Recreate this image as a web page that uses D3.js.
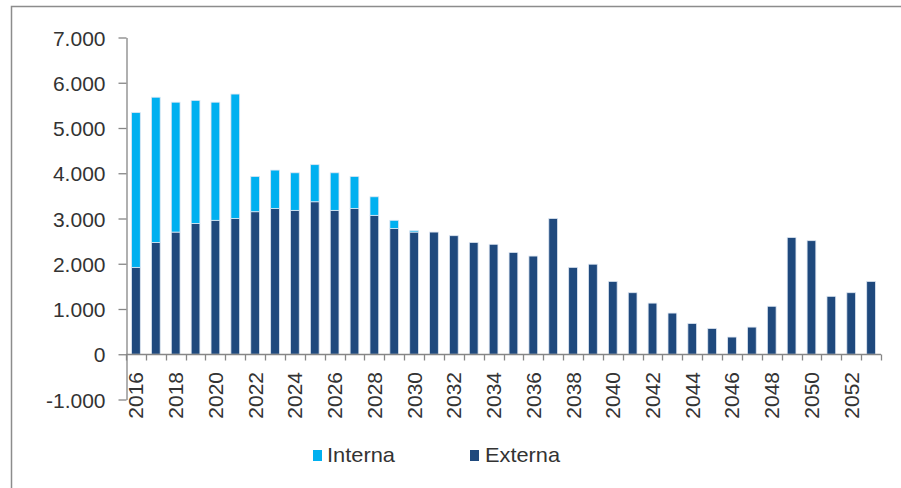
<!DOCTYPE html>
<html>
<head>
<meta charset="utf-8">
<script src="https://cdn.jsdelivr.net/npm/d3@7"></script>
<style>
  body { margin: 0; background: #fff; }
  svg { display: block; font-family: "Liberation Sans", Arial, sans-serif; }
</style>
</head>
<body>
<svg id="drawing_region"></svg>
<script>
var years = [];
for (var y = 2016; y <= 2053; y++) years.push(String(y));

var externa = [1920, 2470, 2700, 2890, 2960, 3000, 3150, 3220, 3180, 3370,
               3180, 3220, 3070, 2780, 2700, 2700, 2620, 2470, 2430, 2250,
               2170, 3000, 1920, 1990, 1610, 1360, 1130, 910, 680, 570,
               380, 600, 1060, 2580, 2510, 1280, 1360, 1610];
var interna = [3420, 3210, 2870, 2720, 2610, 2750, 780, 850, 830, 820,
               830, 710, 410, 180, 30, 0, 0, 0, 0, 0,
               0, 0, 0, 0, 0, 0, 0, 0, 0, 0,
               0, 0, 0, 0, 0, 0, 0, 0];
var yticks = [-1000, 0, 1000, 2000, 3000, 4000, 5000, 6000, 7000];
var seriesNames = ['Interna', 'Externa'];
var colors = {Interna: '#00b0f0', Externa: '#1f497d'};

var data = years.map((d, i) => ({year: d, Externa: externa[i], Interna: interna[i]}));

var width = 901, height = 488;
var svg = d3.select('#drawing_region').attr('width', width).attr('height', height);

// frame
svg.append('path')
  .attr('d', 'M11.5,488 L11.5,6.5 L901,6.5')
  .attr('fill', 'none').attr('stroke', '#8c8c8c').attr('stroke-width', 1.5);

var xscale = d3.scaleBand()
  .domain(years)
  .range([126, 881])
  .paddingInner(0.56)
  .paddingOuter(0.28);

var yscale = d3.scaleLinear()
  .domain([-1000, 7000])
  .range([399.5, 37.5]);

var loc = d3.formatLocale({decimal: ',', thousands: '.', grouping: [3], currency: ['', '']});
var fmt = loc.format(',');

var axisColor = '#868686';
var textColor = '#333333';

// y axis
var yaxis = d3.axisLeft(yscale).tickValues(yticks).tickSize(8).tickSizeOuter(0)
  .tickFormat(d => d < 0 ? '-' + fmt(-d) : fmt(d));
var yg = svg.append('g').attr('transform', 'translate(126.5,0)').call(yaxis);
yg.select('.domain').attr('stroke', axisColor).attr('stroke-width', 1.3);
yg.selectAll('.tick line').attr('stroke', axisColor).attr('stroke-width', 1.3);
yg.selectAll('.tick text')
  .attr('x', -21).attr('dy', '0.36em')
  .attr('fill', textColor).attr('font-size', 21)
  .attr('font-family', '"Liberation Sans", Arial, sans-serif');

// stacked bars
var stack = d3.stack().keys(['Externa', 'Interna']);
var layers = stack(data);

svg.append('g').selectAll('g').data(layers).join('g')
  .attr('fill', d => colors[d.key])
  .selectAll('rect').data(d => d.filter(e => e[1] - e[0] > 0)).join('rect')
  .attr('x', d => xscale(d.data.year))
  .attr('y', d => yscale(d[1]))
  .attr('width', xscale.bandwidth())
  .attr('height', d => yscale(d[0]) - yscale(d[1]))
  .attr('stroke', '#dde6f2').attr('stroke-width', 0.8);

// x axis line at zero with ticks on category boundaries
var y0 = Math.round(yscale(0)) + 0.5;
var x0 = xscale.range()[0], x1 = xscale.range()[1];
svg.append('line')
  .attr('x1', x0).attr('x2', x1).attr('y1', y0).attr('y2', y0)
  .attr('stroke', axisColor).attr('stroke-width', 1.3);
var bounds = d3.range(years.length + 1).map(i => x0 + i * xscale.step());
svg.append('g').selectAll('line').data(bounds).join('line')
  .attr('x1', d => Math.round(d) + 0.5).attr('x2', d => Math.round(d) + 0.5)
  .attr('y1', y0).attr('y2', y0 + 6)
  .attr('stroke', axisColor).attr('stroke-width', 1.3);

// year labels, every other year
svg.append('g').selectAll('text').data(years.filter((d, i) => i % 2 === 0)).join('text')
  .attr('transform', d => `translate(${xscale(d) + xscale.bandwidth() / 2 + 7.5}, 372) rotate(-90)`)
  .attr('text-anchor', 'end')
  .attr('font-size', 21)
  .attr('fill', textColor)
  .text(d => d);

// legend
var legend = [
  {name: 'Interna', x: 313, tx: 327, len: 68},
  {name: 'Externa', x: 470, tx: 485, len: 75}
];
var lg = svg.append('g').selectAll('g').data(legend).join('g');
lg.append('rect')
  .attr('x', d => d.x).attr('y', 450)
  .attr('width', 9).attr('height', 11)
  .attr('fill', d => colors[d.name]);
lg.append('text')
  .attr('x', d => d.tx).attr('y', 462)
  .attr('font-size', 21)
  .attr('fill', textColor)
  .attr('textLength', d => d.len)
  .attr('lengthAdjust', 'spacingAndGlyphs')
  .text(d => d.name);
</script>
</body>
</html>
